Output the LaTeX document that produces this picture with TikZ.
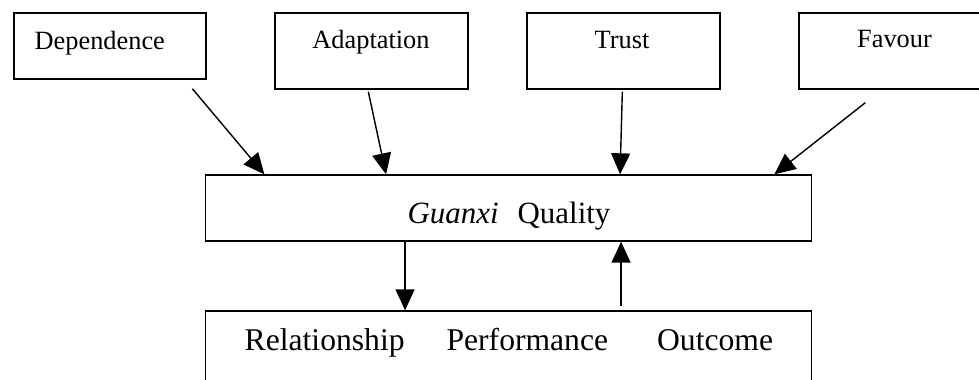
\documentclass[tikz,border=0pt]{standalone}
\usepackage{fontspec}
\setmainfont{Liberation Serif}
\usetikzlibrary{arrows.meta,calc}
\begin{document}
\begin{tikzpicture}[x=0.02cm, y=-0.02cm, line width=0.8pt,
	box/.style={draw, inner sep=0pt, minimum width=3.86cm, minimum height=1.52cm},
	wide/.style={draw, inner sep=0pt, minimum width=12.12cm, minimum height=1.32cm},
	word/.style={anchor=base, inner sep=0pt, font=\fontsize{15}{18}\selectfont},
	>={Triangle[length=0.42cm,width=0.38cm]}]
\useasboundingbox (0,0) rectangle (979,379);

	% the four antecedents
 \node (dep) [box, minimum width=3.84cm, minimum height=1.32cm] at (110,46) {};
 \node (ada) [box] at (371.5,51) {};
 \node (tru) [box] at (623.5,51) {};
 \node (fav) [box, minimum width=3.82cm] at (894.5,51) {};
 \node (deptxt) [word, anchor=base west] at (34,49) {Dependence};
 \node (adatxt) [word] at (371,48) {Adaptation};
 \node (trutxt) [word] at (622,48) {Trust};
 \node (favtxt) [word] at (894.5,47) {Favour};

	% guanxi quality and the outcome
 \node (gq) [wide] at (508.7,208) {};
 \node (rpo) [wide, minimum height=1.52cm] at (508.7,349) {};
 \node (gqtxt) [word, font=\fontsize{17.6}{21}\selectfont] at (509,223) {\textit{Guanxi}\hspace{0.38cm}Quality};
 \node (rpotxt) [word, anchor=base west, font=\fontsize{18}{22}\selectfont] at (244,350)
	{Relationship\hspace{0.84cm}Performance\hspace{0.98cm}Outcome};

 \draw [->] ($(dep.south west)+(179,9)$) -- ($(gq.north west)+(59.3,0)$);
 \draw [->] ($(ada.south west)+(94,2)$) -- ($(gq.north west)+(181,0)$);
 \draw [->] ($(tru.south west)+(96,2)$) -- ($(gq.north west)+(415,0)$);
 \draw [->] ($(fav.south west)+(67,13)$) -- ($(gq.north west)+(569.3,0)$);
 \draw [->] ($(gq.south west)+(200,0)$) -- ($(rpo.north west)+(200,0)$);
 \draw [->] ($(rpo.north west)+(416,-4.3)$) -- ($(gq.south west)+(416,0)$);
\end{tikzpicture}
\end{document}
